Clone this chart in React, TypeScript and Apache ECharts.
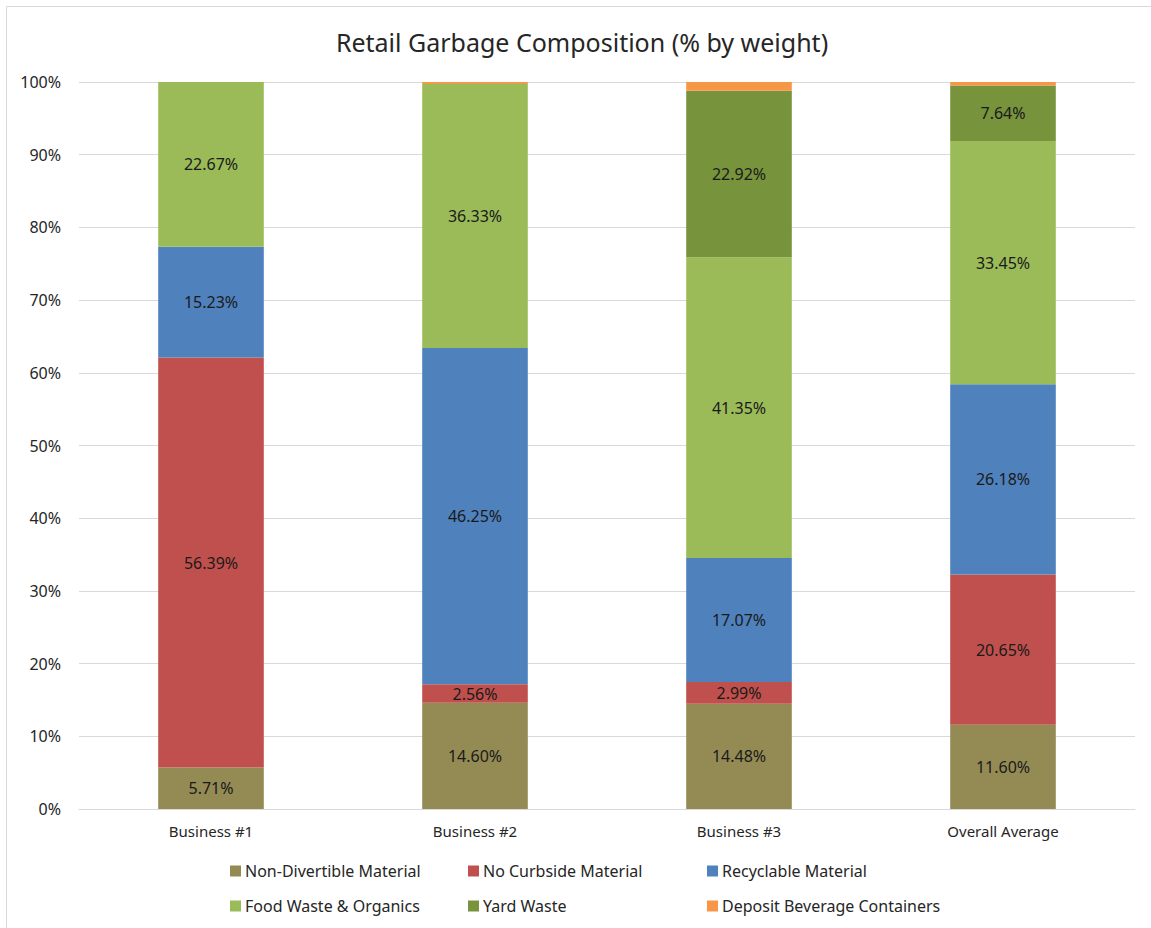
import React, { useEffect, useRef } from "react";
import * as echarts from "echarts";

const categories = ["Business #1", "Business #2", "Business #3", "Overall Average"];
const seriesNames = [
  "Non-Divertible Material",
  "No Curbside Material",
  "Recyclable Material",
  "Food Waste & Organics",
  "Yard Waste",
  "Deposit Beverage Containers",
];
const nonDivertible = [5.71, 14.6, 14.48, 11.6];
const noCurbside = [56.39, 2.56, 2.99, 20.65];
const recyclable = [15.23, 46.25, 17.07, 26.18];
const foodWaste = [22.67, 36.33, 41.35, 33.45];
const yardWaste = [0, 0, 22.92, 7.64];
const depositContainers = [0, 0.26, 1.19, 0.48];
const yTicks = [0, 10, 20, 30, 40, 50, 60, 70, 80, 90, 100];
const titleText = "Retail Garbage Composition (% by weight)";

const colors = ["#948A54", "#C0504D", "#4F81BD", "#9BBB59", "#77933C", "#F79646"];
const FONT = "'Noto Sans', 'Open Sans', sans-serif";

export default function App() {
  const ref = useRef<HTMLDivElement>(null);
  useEffect(() => {
    document.body.style.margin = "0";
    const chart = echarts.init(ref.current!, null, { renderer: "svg" });
    const values = [nonDivertible, noCurbside, recyclable, foodWaste, yardWaste, depositContainers];
    const legendLeft = [230, 468, 707];
    const legendTop = [863, 898];
    chart.setOption({
      animation: false,
      backgroundColor: "#ffffff",
      textStyle: { fontFamily: FONT },
      graphic: [
        {
          type: "rect",
          shape: { x: 6.5, y: 6.5, width: 1200, height: 1000 },
          style: { fill: "none", stroke: "#d9d9d9", lineWidth: 1 },
          silent: true,
          z: -1,
        },
        {
          type: "text",
          x: 582,
          y: 42,
          style: {
            text: titleText,
            fontFamily: FONT,
            fontSize: 25,
            fill: "#262626",
            align: "center",
            verticalAlign: "middle",
          },
          silent: true,
        },
      ],
      legend: seriesNames.map((n, i) => ({
        data: [n],
        left: legendLeft[i % 3],
        top: legendTop[Math.floor(i / 3)],
        padding: 0,
        itemWidth: 11,
        itemHeight: 11,
        itemGap: 4,
        icon: "rect",
        textStyle: { fontFamily: FONT, fontSize: 16, color: "#262626", padding: [0, 0, 0, -1] },
      })),
      grid: { left: 79, right: 16, top: 82, bottom: 119, containLabel: false },
      xAxis: {
        type: "category",
        data: categories,
        axisLine: { lineStyle: { color: "#d9d9d9" } },
        axisTick: { show: false },
        axisLabel: { fontFamily: FONT, fontSize: 15, color: "#262626", margin: 14 },
      },
      yAxis: {
        type: "value",
        min: yTicks[0],
        max: yTicks[yTicks.length - 1],
        interval: 10,
        axisLine: { show: false },
        axisTick: { show: false },
        splitLine: { lineStyle: { color: "#d9d9d9" } },
        axisLabel: { fontFamily: FONT, fontSize: 16, color: "#262626", margin: 18, formatter: "{value}%" },
      },
      series: seriesNames.map((n, i) => ({
        name: n,
        type: "bar",
        stack: "total",
        barWidth: "40%",
        data: values[i],
        itemStyle: { color: colors[i] },
        label: {
          show: i < 5,
          position: "inside",
          fontFamily: FONT,
          fontSize: 16,
          color: "#1a1a1a",
          formatter: (p: any) => (p.value >= 1 ? p.value.toFixed(2) + "%" : ""),
        },
      })),
    });
    return () => chart.dispose();
  }, []);
  return <div ref={ref} style={{ width: 1151, height: 928 }} />;
}
